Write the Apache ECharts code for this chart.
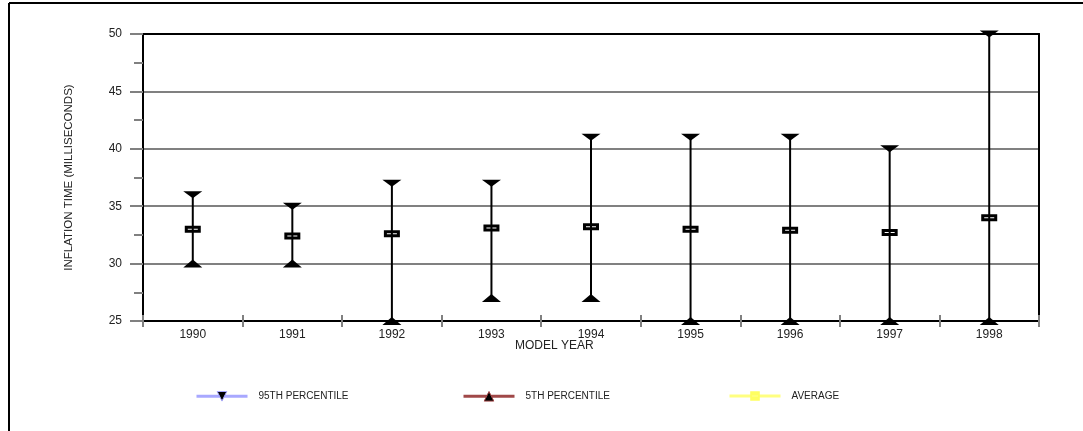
<!DOCTYPE html>
<html>
<head>
<meta charset="utf-8">
<script src="https://cdn.jsdelivr.net/npm/echarts@6/dist/echarts.min.js"></script>
<style>
html,body{margin:0;padding:0;background:#fff;}
#c{width:1083px;height:431px;}
</style>
</head>
<body>
<div id="c"></div>
<script>
const years = ['1990','1991','1992','1993','1994','1995','1996','1997','1998'];
const p95 = [36, 35, 37, 37, 41, 41, 41, 40, 50];
const p5 = [30, 30, 25, 27, 27, 25, 25, 25, 25];
const avg = [33.0, 32.4, 32.6, 33.1, 33.2, 33.0, 32.9, 32.7, 34.0];
const yTicks = [25, 30, 35, 40, 45, 50];

const FONT = 'Arial, "Liberation Sans", sans-serif';
const rangeData = years.map((y, i) => [i, p5[i], p95[i]]);
const avgSymbol = 'path://M0,0H16V7H0Z M3,3V4H13V3Z';

const chart = echarts.init(document.getElementById('c'), null, {renderer: 'canvas'});
const legendBase = {
  orient: 'horizontal', top: 391, padding: 0, itemWidth: 51, itemHeight: 12,
  selectedMode: false,
  textStyle: {fontFamily: FONT, fontSize: 10, color: '#222', padding: [0, 0, 0, 6]}
};
chart.setOption({
  animation: false,
  backgroundColor: '#fff',
  textStyle: {fontFamily: FONT},
  grid: {left: 143, right: 44, top: 34, bottom: 110, containLabel: false},
  title: {text: 'MODEL YEAR', left: 515, top: 340, padding: 0,
    textStyle: {fontFamily: FONT, fontSize: 12, fontWeight: 'normal', color: '#222'}},
  legend: [
    Object.assign({}, legendBase, {left: 195, data: [{name: '95TH PERCENTILE',
      lineStyle: {color: '#a8a8ff', width: 3, opacity: 1},
      itemStyle: {color: '#000', borderColor: '#a8a8ff', borderWidth: 1}}]}),
    Object.assign({}, legendBase, {left: 462, data: [{name: '5TH PERCENTILE',
      lineStyle: {color: '#a04848', width: 3, opacity: 1},
      itemStyle: {color: '#000', borderColor: '#a04848', borderWidth: 1}}]}),
    Object.assign({}, legendBase, {left: 728, data: [{name: 'AVERAGE',
      lineStyle: {color: '#ffff80', width: 3, opacity: 1},
      itemStyle: {color: '#ffff60', borderColor: '#ffff60', borderWidth: 0}}]})
  ],
  xAxis: [
    {type: 'category', data: years, position: 'bottom', boundaryGap: true,
      axisLine: {show: true, lineStyle: {color: '#000', width: 2}},
      axisTick: {show: true, interval: 0, inside: false, length: 6, lineStyle: {color: '#808080', width: 2}},
      axisLabel: {interval: 0, margin: 8, fontFamily: FONT, fontSize: 12, color: '#222'},
      splitLine: {show: false}},
    {type: 'category', data: years, position: 'bottom', boundaryGap: true,
      axisLine: {show: false},
      axisTick: {show: true, interval: 0, inside: true, length: 6, lineStyle: {color: '#808080', width: 2}},
      axisLabel: {show: false}, splitLine: {show: false}},
    {type: 'category', data: years, position: 'top', boundaryGap: true,
      axisLine: {show: true, lineStyle: {color: '#000', width: 2}},
      axisTick: {show: false}, axisLabel: {show: false}, splitLine: {show: false}}
  ],
  yAxis: [
    {type: 'value', min: yTicks[0], max: yTicks[yTicks.length - 1], interval: 5, position: 'left',
      name: 'INFLATION TIME (MILLISECONDS)', nameLocation: 'middle', nameGap: 68, nameRotate: 90,
      nameTextStyle: {fontFamily: FONT, fontSize: 11.5, color: '#222'},
      axisLine: {show: true, lineStyle: {color: '#000', width: 2}},
      axisTick: {show: true, inside: false, length: 13, lineStyle: {color: '#808080', width: 2}},
      minorTick: {show: true, splitNumber: 2, length: 9, lineStyle: {color: '#808080', width: 2}},
      axisLabel: {margin: 21, fontFamily: FONT, fontSize: 12, color: '#222'},
      splitLine: {show: true, lineStyle: {color: '#808080', width: 2}}},
    {type: 'value', min: yTicks[0], max: yTicks[yTicks.length - 1], interval: 5, position: 'left',
      axisLine: {show: false}, axisTick: {show: false},
      minorTick: {show: true, splitNumber: 2, length: 9, lineStyle: {color: '#808080', width: 2}},
      axisLabel: {show: false}, splitLine: {show: false}},
    {type: 'value', min: yTicks[0], max: yTicks[yTicks.length - 1], interval: 5, position: 'right',
      axisLine: {show: true, lineStyle: {color: '#000', width: 2}},
      axisTick: {show: false}, axisLabel: {show: false}, splitLine: {show: false}}
  ],
  series: [
    {type: 'custom', data: rangeData, encode: {x: 0, y: [1, 2]}, z: 2, silent: true,
      renderItem: function (params, api) {
        const a = api.coord([api.value(0), api.value(1)]);
        const b = api.coord([api.value(0), api.value(2)]);
        return {type: 'line', shape: {x1: a[0], y1: a[1], x2: b[0], y2: b[1]},
          style: {stroke: '#000', lineWidth: 2}};
      }},
    {name: '95TH PERCENTILE', type: 'line', data: p95, z: 3,
      symbol: 'triangle', symbolRotate: 180, symbolSize: [19, 7], showSymbol: true,
      lineStyle: {opacity: 0}, itemStyle: {color: '#000'}},
    {name: '5TH PERCENTILE', type: 'line', data: p5, z: 3,
      symbol: 'triangle', symbolSize: [19, 8], showSymbol: true,
      lineStyle: {opacity: 0}, itemStyle: {color: '#000'}},
    {name: 'AVERAGE', type: 'line', data: avg, z: 4,
      symbol: avgSymbol, symbolSize: [16, 7], showSymbol: true,
      lineStyle: {opacity: 0}, itemStyle: {color: '#000'}}
  ],
  graphic: [
    {type: 'line', shape: {x1: 9, y1: 3, x2: 1083, y2: 3}, style: {stroke: '#000', lineWidth: 2}},
    {type: 'line', shape: {x1: 9, y1: 3, x2: 9, y2: 431}, style: {stroke: '#000', lineWidth: 2}}
  ]
});
</script>
</body>
</html>
